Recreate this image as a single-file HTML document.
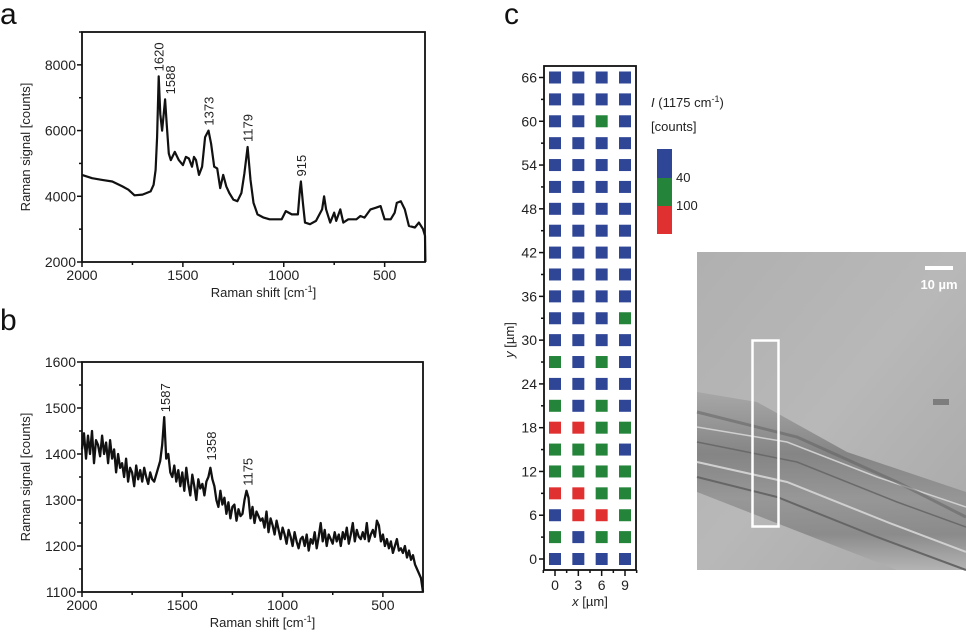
<!DOCTYPE html>
<html><head><meta charset="utf-8"><style>
body{margin:0;background:#fff;}
svg{display:block;font-family:"Liberation Sans",Arial,sans-serif;}
</style></head><body>
<svg id="fig" width="966" height="636" viewBox="0 0 966 636">
<defs>
<linearGradient id="bg" x1="0" y1="0" x2="1" y2="1">
<stop offset="0" stop-color="#b0b0b0"/><stop offset="0.5" stop-color="#b8b8b8"/><stop offset="1" stop-color="#a8a8a8"/>
</linearGradient>
<linearGradient id="band" x1="0" y1="0" x2="0" y2="1">
<stop offset="0" stop-color="#a5a5a5"/><stop offset="0.35" stop-color="#7c7c7c"/><stop offset="0.6" stop-color="#929292"/><stop offset="0.8" stop-color="#858585"/><stop offset="1" stop-color="#b5b5b5"/>
</linearGradient>
</defs>
<g id="pa"></g>
<g id="pb"></g>
<g id="pc"></g>
<g id="photo">
<rect x="697" y="252" width="269" height="318" fill="url(#bg)"/>
<g transform="translate(697,252)">
<polygon points="0,140 60,150 150,200 269,240 269,318 200,318 0,240" fill="url(#band)" opacity="0.85"/>
<polyline points="0,225 80,245 180,285 269,318" fill="none" stroke="#666" stroke-width="2"/>
<polyline points="0,210 90,230 190,270 269,300" fill="none" stroke="#d0d0d0" stroke-width="2"/>
<polyline points="0,190 100,210 200,250 269,275" fill="none" stroke="#6a6a6a" stroke-width="1.5"/>
<polyline points="0,175 90,190 180,225 269,255" fill="none" stroke="#cfcfcf" stroke-width="1.5"/>
<polyline points="0,160 100,185 200,230 269,265" fill="none" stroke="#5e5e5e" stroke-width="3" opacity="0.5"/>
<rect x="236" y="147" width="16" height="6" fill="#666" opacity="0.7"/>
</g>
<rect x="752.5" y="340.5" width="26" height="186" fill="none" stroke="#fff" stroke-width="2.5"/>
<rect x="925" y="266" width="28" height="4" fill="#fff"/>
<text x="939" y="289" font-size="13" font-weight="bold" fill="#fff" text-anchor="middle">10 µm</text>
</g>
</svg>
<script>
const NS='http://www.w3.org/2000/svg';
function mk(p,tag,at,txt){const e=document.createElementNS(NS,tag);for(const k in at)e.setAttribute(k,at[k]);if(txt!==undefined)e.textContent=txt;p.appendChild(e);return e;}

// Panel a data
const aShift=[2000,1950,1900,1850,1800,1770,1740,1700,1680,1660,1645,1635,1628,1620,1612,1603,1595,1588,1580,1570,1560,1540,1520,1500,1485,1470,1455,1445,1435,1420,1405,1390,1373,1360,1345,1330,1315,1300,1285,1270,1250,1230,1210,1195,1179,1165,1150,1130,1100,1070,1040,1010,990,960,930,920,915,905,895,870,840,810,800,790,770,750,740,720,705,680,640,620,600,570,545,520,500,470,450,440,420,400,380,350,330,310,300,298];
const aCounts=[4650,4550,4500,4450,4300,4200,4030,4050,4100,4150,4350,4800,5800,7650,6500,6000,6500,6950,6200,5300,5100,5350,5100,4950,5200,5150,4900,5200,5100,4650,4900,5800,6000,5600,4900,4850,4250,4650,4300,4100,3900,3850,4100,4700,5500,4500,3800,3450,3350,3300,3300,3300,3550,3450,3450,4200,4450,3800,3200,3150,3250,3600,4000,3600,3200,3500,3250,3600,3200,3300,3300,3400,3350,3600,3650,3700,3300,3300,3500,3800,3850,3600,3100,3050,3200,3000,2800,2000];
const aYTicks=[2000,4000,6000,8000];
const xTicks=[2000,1500,1000,500];
const aPeaks=[1620,1588,1373,1179,915];
const aPeakVals=[7650,6950,6000,5500,4450];

// Panel b data
const bStart=2000, bStep=10;
const bCounts=[1410,1445,1390,1440,1400,1450,1380,1430,1420,1395,
1440,1400,1425,1380,1430,1390,1410,1360,1400,1370,
1380,1350,1390,1340,1370,1360,1330,1375,1345,1365,
1340,1370,1350,1335,1360,1345,1340,1355,1370,1385,
1420,1480,1390,1400,1360,1350,1375,1340,1365,1330,
1360,1320,1370,1335,1310,1355,1330,1300,1345,1325,
1335,1310,1340,1350,1370,1345,1330,1300,1285,1320,
1290,1305,1270,1295,1260,1285,1290,1255,1280,1265,
1270,1300,1320,1305,1260,1285,1250,1275,1265,1255,
1260,1240,1275,1230,1260,1245,1225,1255,1235,1215,
1240,1225,1205,1235,1220,1200,1230,1210,1195,1215,
1220,1200,1225,1190,1215,1205,1230,1195,1220,1250,
1210,1235,1200,1225,1215,1205,1230,1210,1225,1200,
1230,1215,1240,1205,1225,1250,1210,1235,1220,1215,
1230,1215,1250,1210,1225,1235,1220,1255,1245,1210,
1225,1200,1215,1195,1210,1185,1200,1215,1190,1195,
1185,1200,1175,1190,1170,1180,1160,1150,1140,1130,1100];
const bYTicks=[1100,1200,1300,1400,1500,1600];
const bPeaks=[1587,1358,1175];
const bPeakVals=[1480,1375,1320];

function spectrumPanel(g,o){
  const X=v=>o.L+(o.x0-v)/(o.x0-o.x1)*(o.R-o.L);
  const Y=v=>o.B-(v-o.y0)/(o.y1-o.y0)*(o.B-o.T);
  const t=mk(g,'text',{x:o.letterX,y:o.letterY,'font-size':30,fill:'#111'},o.letter);
  
  
  const pts=o.xs.map((x,i)=>X(x).toFixed(1)+','+Y(o.ys[i]).toFixed(1)).join(' ');
  const line=mk(g,'polyline',{points:pts,fill:'none',stroke:'#111','stroke-width':o.sw,'stroke-linejoin':'round'});
  
  
  const frame=mk(g,'rect',{x:o.L,y:o.T,width:o.R-o.L,height:o.B-o.T,fill:'none',stroke:'#111','stroke-width':1.8});
  
  
  for(let v=2000;v>=o.x1;v-=250){const major=v%500===0;mk(g,'line',{x1:X(v),x2:X(v),y1:o.B,y2:o.B+(major?5:3),stroke:'#111','stroke-width':1.5});}
  o.xt.forEach(v=>{const e=mk(g,'text',{x:X(v),y:o.B+18,'font-size':14,'text-anchor':'middle',fill:'#222'},String(v));
    
    });
  const yt=o.yt; const stepMinor=(yt[1]-yt[0])/2;
  for(let v=o.y0;v<=o.y1+0.01;v+=stepMinor){const major=yt.includes(Math.round(v));mk(g,'line',{x1:o.L,x2:o.L-(major?5:3),y1:Y(v),y2:Y(v),stroke:'#111','stroke-width':1.5});}
  yt.forEach(v=>{const e=mk(g,'text',{x:o.L-6,y:Y(v)+5,'font-size':14,'text-anchor':'end',fill:'#222'},String(v));
    
    });
  const xtitle=mk(g,'text',{x:(o.L+o.R)/2+10,y:o.B+35,'font-size':13,'text-anchor':'middle',fill:'#222'});
  
  
  xtitle.appendChild(document.createTextNode('Raman shift [cm'));
  mk(xtitle,'tspan',{dy:-5,'font-size':9},'-1');
  mk(xtitle,'tspan',{dy:5},']');
  const cy=(o.T+o.B)/2;
  const yti=mk(g,'text',{x:0,y:0,'font-size':13,'text-anchor':'middle',fill:'#222',transform:`translate(${o.L-52},${cy}) rotate(-90)`},'Raman signal [counts]');
  
  
  o.peaks.forEach((p,i)=>{const px=X(p)+5+(o.peakDx?o.peakDx[i]:0),py=Y(o.peakVals[i])-5;
    const e=mk(g,'text',{x:0,y:0,'font-size':13,fill:'#222',transform:`translate(${px},${py}) rotate(-90)`},String(p));
    
    });
}
spectrumPanel(document.getElementById('pa'),{L:82,R:425,T:32,B:262,x0:2000,x1:300,y0:2000,y1:9000,xs:aShift,ys:aCounts,xt:xTicks,yt:aYTicks,peaks:aPeaks,peakVals:aPeakVals,peakDx:[0,5,0,0,0],letter:'a',letterX:0,letterY:24,sw:2.2});
const bShift=bCounts.map((_,i)=>bStart-i*bStep);
spectrumPanel(document.getElementById('pb'),{L:82,R:423,T:362,B:592,x0:2000,x1:300,y0:1100,y1:1600,xs:bShift,ys:bCounts,xt:xTicks,yt:bYTicks,peaks:bPeaks,peakVals:bPeakVals,letter:'b',letterX:0,letterY:330,sw:2.3});

// Panel c data: rows from y=0 upward, 0=blue,1=green,2=red
const cX=[0,3,6,9];
const cY=[0,3,6,9,12,15,18,21,24,27,30,33,36,39,42,45,48,51,54,57,60,63,66];
const cLevels=[[0,0,0,0],[1,0,1,1],[0,2,2,1],[2,2,1,1],[1,1,1,1],[1,1,1,0],[2,2,1,1],[1,0,1,0],[0,0,0,0],[1,0,1,0],[0,0,0,0],[0,0,0,1],[0,0,0,0],[0,0,0,0],[0,0,0,0],[0,0,0,0],[0,0,0,0],[0,0,0,0],[0,0,0,0],[0,0,0,0],[0,0,1,0],[0,0,0,0],[0,0,0,0]];
const cYTicks=[0,6,12,18,24,30,36,42,48,54,60,66];
const colors=['#2f4596','#23843a','#e03030'];
(function(){
  const g=document.getElementById('pc');
  const L=544,R=636,T=66,B=570;
  const X=v=>555+v/9*70, Y=v=>559-v/66*481.5;
  const t=mk(g,'text',{x:504,y:24,'font-size':30,fill:'#111'},'c');
  
  
  cY.forEach((yv,r)=>cX.forEach((xv,c)=>{
    const s=mk(g,'rect',{x:X(xv)-6,y:Y(yv)-6,width:12,height:12,fill:colors[cLevels[r][c]]});
    
    
  }));
  const f=mk(g,'rect',{x:L,y:T,width:R-L,height:B-T,fill:'none',stroke:'#111','stroke-width':1.8});
  
  
  cY.forEach(v=>{const major=cYTicks.includes(v);mk(g,'line',{x1:L,x2:L-(major?5:3),y1:Y(v),y2:Y(v),stroke:'#111','stroke-width':1.5});});
  cYTicks.forEach(v=>{const e=mk(g,'text',{x:L-7,y:Y(v)+5,'font-size':14,'text-anchor':'end',fill:'#222'},String(v));
    
    });
  for(let v=-1.5;v<=10.5;v+=1.5){const major=cX.includes(v);mk(g,'line',{x1:X(v),x2:X(v),y1:B,y2:B+(major?6:3),stroke:'#111','stroke-width':1.5});}
  cX.forEach(v=>{const e=mk(g,'text',{x:X(v),y:B+20,'font-size':14,'text-anchor':'middle',fill:'#222'},String(v));
    
    });
  const xt=mk(g,'text',{x:590,y:B+36,'font-size':13,'text-anchor':'middle',fill:'#222'});
  
  
  mk(xt,'tspan',{'font-style':'italic'},'x');xt.appendChild(document.createTextNode(' [µm]'));
  const yt=mk(g,'text',{x:0,y:0,'font-size':13,'text-anchor':'middle',fill:'#222',transform:'translate(514,340) rotate(-90)'});
  
  
  mk(yt,'tspan',{'font-style':'italic'},'y');yt.appendChild(document.createTextNode(' [µm]'));
  const lt=mk(g,'text',{x:651,y:107,'font-size':13,fill:'#222'});
  
  
  mk(lt,'tspan',{'font-style':'italic'},'I');lt.appendChild(document.createTextNode(' (1175 cm'));
  mk(lt,'tspan',{dy:-5,'font-size':9},'-1');mk(lt,'tspan',{dy:5},')');
  const lt2=mk(g,'text',{x:651,y:131,'font-size':13,fill:'#222'},'[counts]');
  
  
  const legY=[149,178,206],legH=[29,28,28];
  colors.forEach((c,i)=>{const r=mk(g,'rect',{x:657,y:legY[i],width:15,height:legH[i],fill:c});
    
    });
  const l1=mk(g,'text',{x:676,y:182,'font-size':13,fill:'#222'},'40');
  
  
  const l2=mk(g,'text',{x:676,y:210,'font-size':13,fill:'#222'},'100');
  
  
})();
</script>
</body></html>
